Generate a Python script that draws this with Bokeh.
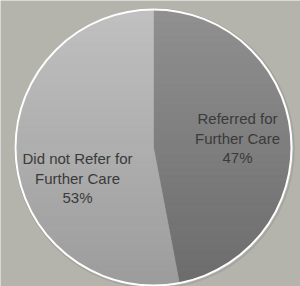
import numpy as np
from bokeh.plotting import figure
from bokeh.models import Range1d, ColumnDataSource
from bokeh.core.properties import value
from bokeh.embed import file_html
from bokeh.resources import INLINE

# ---- data ----
labels = ["Referred for\nFurther Care", "Did not Refer for\nFurther Care"]
shares = [47, 53]
top_colors = [(0x90, 0x90, 0x90), (0xc0, 0xc0, 0xc0)]
bottom_colors = [(0x6c, 0x6c, 0x6c), (0x9c, 0x9c, 0x9c)]

W, H = 300, 286
cx, cy, r = 153.0, -147.0, 138.0

p = figure(width=W, height=H, output_backend="svg", toolbar_location=None,
           x_range=Range1d(0, W), y_range=Range1d(-H, 0),
           min_border=0, outline_line_color=None,
           background_fill_color="#b4b4ac", border_fill_color="#b4b4ac")
p.axis.visible = False
p.grid.visible = False

fracs = np.array(shares, dtype=float) / sum(shares)
ends = np.cumsum(fracs)
starts = ends - fracs


def slice_poly(f0, f1):
    t = np.linspace(f0, f1, 200) * 2 * np.pi
    # clockwise from 12 o'clock
    xs = cx + r * np.sin(t)
    ys = cy + r * np.cos(t)
    return np.concatenate([[cx], xs]), np.concatenate([[cy], ys])


def clip(xs, ys, y0, y1):
    pts = list(zip(xs, ys))

    def clip_half(pts, lim, keep_above):
        out = []
        n = len(pts)
        for i in range(n):
            a = pts[i]
            b = pts[(i + 1) % n]
            ina = a[1] >= lim if keep_above else a[1] <= lim
            inb = b[1] >= lim if keep_above else b[1] <= lim
            if ina:
                out.append(a)
            if ina != inb:
                tt = (lim - a[1]) / (b[1] - a[1])
                out.append((a[0] + tt * (b[0] - a[0]), lim))
        return out

    pts = clip_half(pts, y0, True)
    if pts:
        pts = clip_half(pts, y1, False)
    return [q[0] for q in pts], [q[1] for q in pts]


nb = 40
edges = np.linspace(cy - r - 1, cy + r + 1, nb + 1)
pxs, pys, cols = [], [], []
for i in range(len(shares)):
    sx, sy = slice_poly(starts[i], ends[i])
    for b in range(nb):
        y0, y1 = edges[b], edges[b + 1]
        qx, qy = clip(sx, sy, y0 - 0.3, y1 + 0.3)
        if len(qx) < 3:
            continue
        tpos = 1 - ((y0 + y1) / 2 - (cy - r)) / (2 * r)  # 0 top, 1 bottom
        c = tuple(int(round(top_colors[i][k] + (bottom_colors[i][k] - top_colors[i][k]) * tpos)) for k in range(3))
        pxs.append(qx)
        pys.append(qy)
        cols.append("#%02x%02x%02x" % c)

p.patches(xs=pxs, ys=pys, fill_color=cols, line_color=cols, line_width=0.5)

# soft shadow + outer white rim
p.circle(x=[cx + 1], y=[cy - 1], radius=r + 1.5, fill_color=None, line_color="#9a9a94", line_width=1.5, line_alpha=0.6)
p.circle(x=[cx], y=[cy], radius=r, fill_color=None, line_color="white", line_width=2)

# labels
lab_x = [237, 77]
lab_y = [-109.5, -149.5]
txt = [f"{labels[i]}\n{shares[i]}%" for i in range(len(shares))]
src = ColumnDataSource(dict(x=lab_x, y=lab_y, t=txt))
p.text(x="x", y="y", text="t", source=src, text_align="center", text_baseline="top",
       text_font=value("Liberation Sans"), text_font_size="15px", text_color="#3a3a3a",
       text_line_height=1.15)

open("out.html", "w").write(file_html(p, INLINE))
